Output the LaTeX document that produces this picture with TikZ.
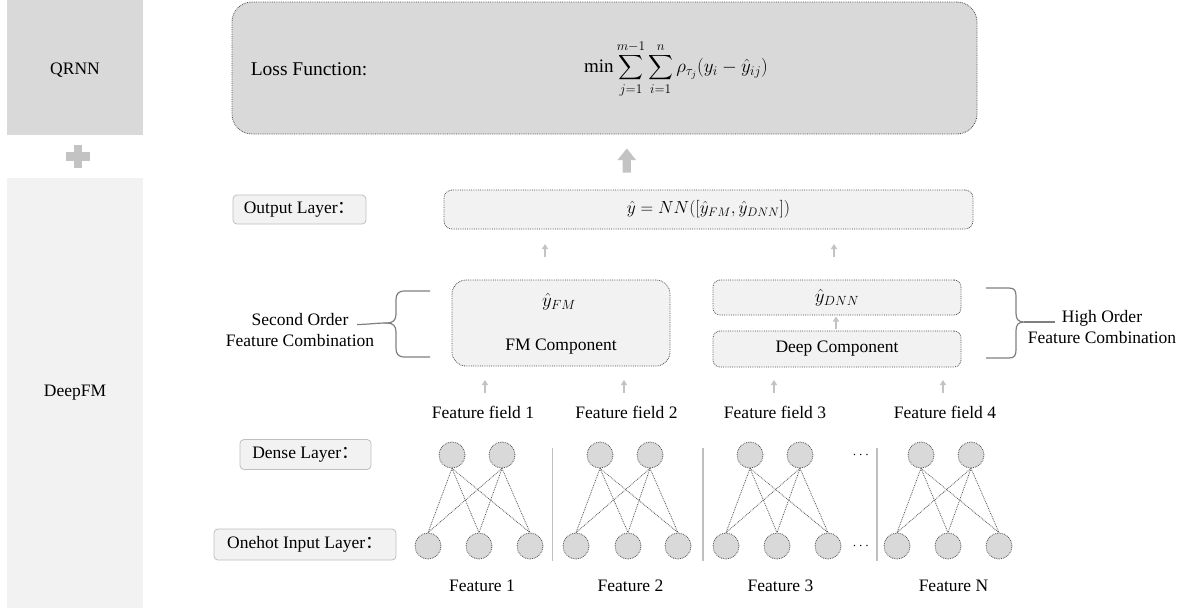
\RequirePackage{fix-cm}
\documentclass[tikz,border=0pt]{standalone}
\usepackage{amsmath}
\usepackage{fontspec}
\setmainfont{Liberation Serif}
\newfontfamily\cjk{Noto Sans CJK SC}
\usetikzlibrary{arrows.meta}
\definecolor{qgray}{HTML}{D9D9D9}
\definecolor{lgray}{HTML}{F2F2F2}
\definecolor{bgray}{HTML}{BFBFBF}
\definecolor{dotc}{HTML}{505050}
\definecolor{arrc}{HTML}{C3C3C3}
\definecolor{bracec}{HTML}{7F7F7F}
\begin{document}
\begin{tikzpicture}[x=1pt,y=-1pt,
  every node/.style={font=\fontsize{17.5}{21}\selectfont, inner sep=0pt, text=black},
  dotbox/.style={draw=dotc, densely dotted, line width=0.8pt, fill=lgray, rounded corners=#1},
  labelbox/.style={draw=bgray, fill=lgray, rounded corners=4pt, line width=0.8pt},
  neuron/.style={circle, draw=dotc, densely dotted, fill=qgray, minimum size=26pt, line width=0.8pt},
  edge/.style={draw=dotc, densely dotted, line width=0.8pt},
  sep/.style={draw=bgray, line width=1.2pt},
  smallarr/.style={draw=arrc, line width=2pt, -{Triangle[width=6pt,length=5pt]}},
  bracepath/.style={draw=bracec, line width=1.2pt}]
\useasboundingbox (0,0) rectangle (1188,608);

% left bars
\node[fill=qgray, minimum width=136pt, minimum height=135pt] (qrnn) at (75,67.5) {};
\node at (75,70) {QRNN};
\fill[arrc] (74,145) rectangle (82,168);
\fill[arrc] (66,152) rectangle (90,161);
\node[fill=lgray, minimum width=136pt, minimum height=430pt] (deepfm) at (75,393) {};
\node at (75,393) {DeepFM};

% loss box
\node[dotbox=20pt, fill=qgray, minimum width=745pt, minimum height=132pt] (loss) at (604.5,68) {};
\node[font=\fontsize{19.5}{23}\selectfont] (losslab) at (309,69) {Loss Function:};
\node[font=\fontsize{19}{22}\selectfont] (lossf) at (676,69)
  {$\displaystyle \min\sum_{j=1}^{m-1}\sum_{i=1}^{n}\rho_{\tau_j}(y_i-\hat{y}_{ij})$};
% big arrow
\fill[arrc] (622.7,172.7) -- (622.7,160) -- (617.5,160) -- (626.8,148.5) -- (636,160) -- (630.9,160) -- (630.9,172.7) -- cycle;

% output layer
\node[labelbox, minimum width=133pt, minimum height=29pt] (outlab) at (299.5,209.5) {Output Layer{\cjk ：}};
\node[dotbox=8pt, minimum width=529pt, minimum height=39pt] (out) at (708.5,209.5)
  {$\hat{y}=NN([\hat{y}_{FM},\hat{y}_{DNN}])$};
\coordinate (a1s) at (545,256.5); \coordinate (a1e) at (545,244);
\coordinate (a2s) at (834,256.5); \coordinate (a2e) at (834,244);
\draw[smallarr] (a1s) -- (a1e);
\draw[smallarr] (a2s) -- (a2e);

% FM component
\node[dotbox=14pt, minimum width=218pt, minimum height=86pt] (fm) at (561,323) {};
\node[font=\fontsize{19}{22}\selectfont] (yfm) at (559,302) {$\hat{y}_{FM}$};
\node (fmlab) at (561,347) {FM Component};
% deep component
\node[dotbox=7pt, minimum width=248pt, minimum height=35pt] (ydnn) at (837,297.5) {};
\node[font=\fontsize{19}{22}\selectfont] (ydnnlab) at (837,298) {$\hat{y}_{DNN}$};
\node[dotbox=7pt, minimum width=248pt, minimum height=36pt] (deep) at (837,349) {Deep Component};
\coordinate (a3s) at (836,329); \coordinate (a3e) at (836,316.5);
\draw[smallarr] (a3s) -- (a3e);

% braces
\draw[bracepath] (430,291) -- (405,291) .. controls (398,291) and (396,294) .. (396,300) -- (396,314)
  .. controls (396,320) and (393,323) .. (387,323) .. controls (393,323) and (396,326) .. (396,332)
  -- (396,348) .. controls (396,354) and (398,357) .. (405,357) -- (430,357);
\coordinate (lbtip) at (387,323);
\coordinate (lbend) at (357,324.5);
\draw[bracepath] (lbtip) .. controls (375,323) and (368,324.5) .. (lbend);
\node[align=center] (lbtext) at (300,330.5) {Second Order\\Feature Combination};

\draw[bracepath] (986,288) -- (1009,288) .. controls (1015,288) and (1016,291) .. (1016,297) -- (1016,313)
  .. controls (1016,319) and (1018,322) .. (1024,322) .. controls (1018,322) and (1016,325) .. (1016,331)
  -- (1016,349) .. controls (1016,355) and (1015,358) .. (1009,358) -- (986,358);
\coordinate (rbtip) at (1024,322);
\coordinate (rbend) at (1055,322);
\draw[bracepath] (rbtip) -- (rbend);
\node[align=center] (rbtext) at (1102,327.5) {High Order\\Feature Combination};

% feature fields
\foreach \x/\n in {485/1, 624/2, 774/3, 943/4}{
  \coordinate (ffs\n) at (\x,392.5);
  \coordinate (ffe\n) at (\x,380);
  \draw[smallarr] (ffs\n) -- (ffe\n);
}
\node (ff1) at (483,412.5) {Feature field 1};
\node (ff2) at (626.5,412.5) {Feature field 2};
\node (ff3) at (775,412.5) {Feature field 3};
\node (ff4) at (945,412.5) {Feature field 4};

% layer labels
\node[labelbox, minimum width=131pt, minimum height=30pt] (denselab) at (305.5,454.5) {Dense Layer{\cjk ：}};
\node[labelbox, minimum width=182pt, minimum height=31pt] (onehotlab) at (305,544.5) {Onehot Input Layer{\cjk ：}};

% networks
\foreach \g/\ta/\tb/\ba/\bb/\bc in {1/452/502/428/479/530, 2/600/650/576/628/678, 3/750/800/726/777/828, 4/921/971/897/948/999}{
  \node[neuron] (t\g-1) at (\ta,455) {};
  \node[neuron] (t\g-2) at (\tb,455) {};
  \node[neuron] (b\g-1) at (\ba,546) {};
  \node[neuron] (b\g-2) at (\bb,546) {};
  \node[neuron] (b\g-3) at (\bc,546) {};
  \foreach \i in {1,2}{
    \foreach \j in {1,2,3}{
      \draw[edge] (t\g-\i.south) -- (b\g-\j.north);
    }
  }
}
\foreach \x/\n in {552.5/1, 703/2, 877/3}{
  \coordinate (st\n) at (\x,448);
  \coordinate (sb\n) at (\x,561);
  \draw[sep] (st\n) -- (sb\n);
}
\node[font=\fontsize{14}{16}\selectfont] (dots1) at (862,455) {$\cdots$};
\node[font=\fontsize{14}{16}\selectfont] (dots2) at (862,546) {$\cdots$};

\node (f1) at (482,586) {Feature 1};
\node (f2) at (630.5,586) {Feature 2};
\node (f3) at (780.5,586) {Feature 3};
\node (f4) at (953.5,586) {Feature N};
\end{tikzpicture}
\end{document}
